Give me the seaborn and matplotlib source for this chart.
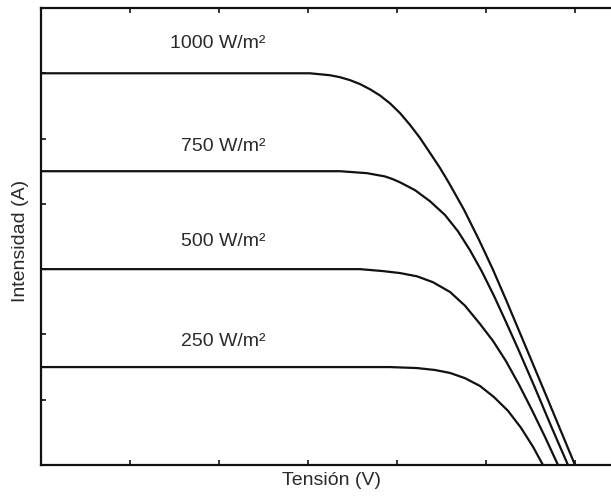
import matplotlib
matplotlib.use("Agg")
import matplotlib.pyplot as plt
import seaborn as sns
import pandas as pd

# Values (axis units 0..7 on both axes; no numeric tick labels)
v_1000 = [0.0, 1.787, 3.022, 3.247, 3.360, 3.472, 3.584, 3.697, 3.809, 3.921, 4.034,
          4.146, 4.258, 4.371, 4.483, 4.584, 4.753, 4.921, 5.079, 5.225, 5.416, 5.674, 6.0]
i_1000 = [6.0, 6.0, 6.0, 5.97, 5.94, 5.895, 5.835, 5.755, 5.66, 5.54, 5.39,
          5.21, 5.01, 4.78, 4.55, 4.32, 3.91, 3.45, 2.99, 2.53, 1.91, 1.07, 0.0]

v_750 = [0.0, 1.787, 3.360, 3.663, 3.865, 3.950, 4.034, 4.202, 4.371, 4.539, 4.685, 4.820,
         4.955, 5.090, 5.225, 5.360, 5.551, 5.730, 5.921]
i_750 = [4.5, 4.5, 4.5, 4.47, 4.42, 4.38, 4.33, 4.21, 4.04, 3.83, 3.58, 3.29,
         2.96, 2.59, 2.19, 1.78, 1.18, 0.60, 0.0]

v_500 = [0.0, 1.787, 3.584, 3.843, 4.034, 4.225, 4.404, 4.596, 4.764, 4.933, 5.079,
         5.225, 5.371, 5.517, 5.663, 5.809]
i_500 = [3.0, 3.0, 3.0, 2.97, 2.94, 2.89, 2.80, 2.65, 2.44, 2.16, 1.90,
         1.59, 1.23, 0.84, 0.43, 0.0]

v_250 = [0.0, 1.787, 3.921, 4.225, 4.427, 4.596, 4.764, 4.933, 5.090, 5.247, 5.393,
         5.528, 5.640]
i_250 = [1.5, 1.5, 1.5, 1.485, 1.455, 1.41, 1.33, 1.21, 1.04, 0.83, 0.57,
         0.28, 0.0]

irradiances = ["1000 W/m²", "750 W/m²", "500 W/m²", "250 W/m²"]
label_y = [6.39, 4.81, 3.35, 1.82]

sns.set_style("ticks")
plt.rcParams["font.family"] = ["Liberation Sans", "DejaVu Sans"]

frames = []
for name, v, i in zip(irradiances, [v_1000, v_750, v_500, v_250], [i_1000, i_750, i_500, i_250]):
    frames.append(pd.DataFrame({"V": v, "I": i, "G": name}))
df = pd.concat(frames, ignore_index=True)

fig = plt.figure(figsize=(6.11, 4.97), dpi=100)
ax = fig.add_axes([41 / 611, 32 / 497, 623 / 611, 457 / 497])

sns.lineplot(data=df, x="V", y="I", hue="G", palette=["#111111"] * 4,
             estimator=None, legend=False, linewidth=1.6, ax=ax)

ax.set_xlim(0, 7)
ax.set_ylim(0, 7)
ax.set_xticks(range(0, 8))
ax.set_yticks(range(0, 8))
ax.tick_params(direction="in", length=3.5, width=1.2, top=True, right=True,
               labelbottom=False, labelleft=False, color="#111111")
for s in ax.spines.values():
    s.set_linewidth(1.6)
    s.set_color("#111111")

for name, y in zip(irradiances, label_y):
    ax.text(2.52, y, name, ha="right", va="baseline", fontsize=14, color="#2a2a2a")

ax.set_xlabel("Tensión (V)", fontsize=14, color="#2a2a2a")
ax.set_ylabel("Intensidad (A)", fontsize=14, color="#2a2a2a")
ax.xaxis.set_label_coords((331 - 41) / 623, -7 / 457)
ax.yaxis.set_label_coords(-0.02, 0.49)

fig.savefig("out.png", dpi=100)
